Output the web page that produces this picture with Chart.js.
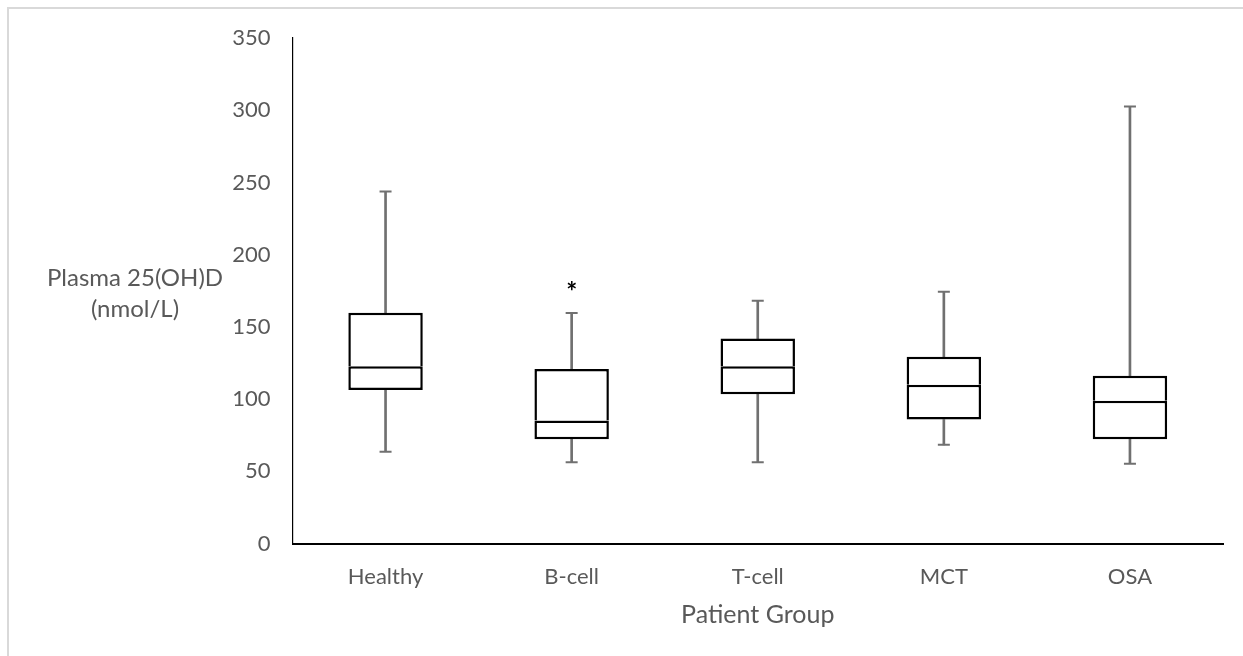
<!DOCTYPE html>
<html><head><meta charset="utf-8">
<script src="https://cdn.jsdelivr.net/npm/chart.js@4.4.1/dist/chart.umd.min.js"></script>
<style>
html,body{margin:0;padding:0;background:#fff;overflow:hidden}
#wrap{position:relative;width:1243px;height:656px;overflow:hidden}
#frame{position:absolute;left:7px;top:7px;width:1300px;height:700px;border:2px solid #d9d9d9;box-sizing:border-box}
canvas{position:absolute;left:0;top:0}
</style></head>
<body><div id="wrap"><div id="frame"></div><canvas id="c" width="1243" height="656"></canvas></div>
<script>
// ---- data ----
const categories = ['Healthy', 'B-cell', 'T-cell', 'MCT', 'OSA'];
const whiskerMin = [63.6, 56.2, 56.2, 68.3, 55.3];
const q1 = [106.2, 72.2, 103.3, 85.8, 72.2];
const median = [122.8, 85.1, 122.7, 110.0, 98.9];
const q3 = [159.8, 120.9, 141.9, 129.3, 116.2];
const whiskerMax = [243.7, 159.6, 168.0, 174.3, 302.6];
const markerValues = [null, 178, null, null, null];
const markerText = '*';
const yTicks = [0, 50, 100, 150, 200, 250, 300, 350];
const yTitleLines = ['Plasma 25(OH)D', '(nmol/L)'];
const xTitle = 'Patient Group';

// ---- styles ----
const TEXT = '#595959';
const WHISKER = '#707070';
const FONT = 'Lato';

const lowerBox = categories.map((c, i) => [q1[i], median[i]]);
const upperBox = categories.map((c, i) => [median[i], q3[i]]);
const lowerStem = categories.map((c, i) => [whiskerMin[i], q1[i]]);
const upperStem = categories.map((c, i) => [q3[i], whiskerMax[i]]);

const yTitlePlugin = {
  id: 'yTitle',
  afterDraw(chart) {
    const ctx = chart.ctx;
    ctx.save();
    ctx.font = '24px ' + FONT;
    ctx.fillStyle = TEXT;
    ctx.textAlign = 'center';
    ctx.textBaseline = 'middle';
    yTitleLines.forEach((t, k) => ctx.fillText(t, 135, 278 + k * 31.5));
    ctx.restore();
  }
};

const markerPlugin = {
  id: 'markers',
  afterDatasetsDraw(chart) {
    const ctx = chart.ctx;
    const xs = chart.scales.x, ys = chart.scales.y;
    ctx.save();
    ctx.font = 'bold 26px ' + FONT;
    ctx.fillStyle = '#000';
    ctx.textBaseline = 'alphabetic';
    ctx.textAlign = 'left';
    const m = ctx.measureText(markerText);
    markerValues.forEach((v, i) => {
      if (v === null) return;
      const px = xs.getPixelForValue(i);
      const py = ys.getPixelForValue(v);
      const w = m.actualBoundingBoxLeft + m.actualBoundingBoxRight;
      const h = m.actualBoundingBoxAscent + m.actualBoundingBoxDescent;
      ctx.fillText(markerText, px - w / 2 + m.actualBoundingBoxLeft, py + h / 2 - m.actualBoundingBoxDescent);
    });
    ctx.restore();
  }
};

new Chart(document.getElementById('c'), {
  type: 'bar',
  data: {
    labels: categories,
    datasets: [
      { data: lowerStem, backgroundColor: WHISKER, borderWidth: 0, barThickness: 2, grouped: false, order: 4 },
      { data: upperStem, backgroundColor: WHISKER, borderWidth: 0, barThickness: 2, grouped: false, order: 4 },
      { data: lowerBox, backgroundColor: '#fff', borderColor: '#000', borderSkipped: false,
        borderWidth: { top: 2.5, bottom: 2.5, left: 2.5, right: 2.5 }, grouped: false, order: 3 },
      { data: upperBox, backgroundColor: '#fff', borderColor: '#000', borderSkipped: false,
        borderWidth: { top: 2.5, bottom: 0, left: 2.5, right: 2.5 }, grouped: false, order: 2 },
      { type: 'line', data: whiskerMax, showLine: false, pointStyle: 'line', pointRadius: 6,
        pointBorderWidth: 2, borderColor: WHISKER, pointHoverRadius: 6, order: 1 },
      { type: 'line', data: whiskerMin, showLine: false, pointStyle: 'line', pointRadius: 6,
        pointBorderWidth: 2, borderColor: WHISKER, pointHoverRadius: 6, order: 1 }
    ]
  },
  options: {
    responsive: false,
    animation: false,
    devicePixelRatio: 1,
    categoryPercentage: 1,
    barPercentage: 0.4,
    layout: { padding: { left: 0, right: 20, top: 38, bottom: 0 } },
    plugins: { legend: { display: false }, tooltip: { enabled: false } },
    scales: {
      x: {
        grid: { display: false, drawTicks: false },
        border: { display: true, color: '#000', width: 2 },
        ticks: { color: TEXT, font: { family: FONT, size: 22 }, padding: 20 },
        title: { display: true, text: xTitle, color: TEXT, font: { family: FONT, size: 25 }, padding: { top: 0, bottom: 26 } },
        afterFit(s) { s.height = 112.5; }
      },
      y: {
        min: 0, max: 350,
        grid: { display: false, drawTicks: false },
        border: { display: true, color: '#000', width: 1.2 },
        ticks: { color: TEXT, font: { family: FONT, size: 22 }, padding: 22 },
        afterBuildTicks(s) { s.ticks = yTicks.map(v => ({ value: v })); },
        afterFit(s) { s.width = 292.5; }
      }
    }
  },
  plugins: [yTitlePlugin, markerPlugin]
});
</script>
</body></html>
